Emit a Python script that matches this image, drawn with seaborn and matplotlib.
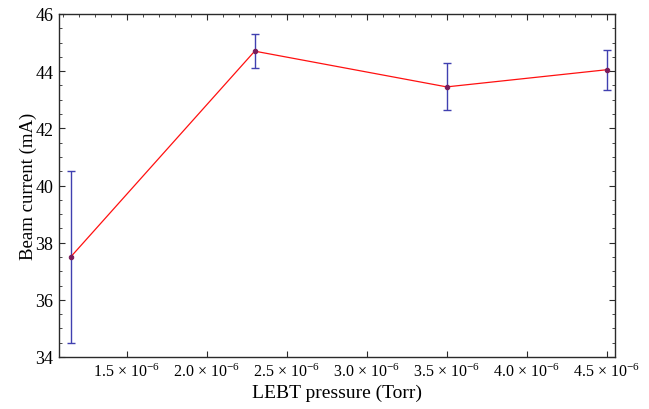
import matplotlib
matplotlib.use("Agg")
import matplotlib.pyplot as plt
from matplotlib.ticker import MultipleLocator, FuncFormatter
import seaborn as sns
import pandas as pd

# LEBT pressure scan: measured beam current with uncertainty
pressure_torr = [1.15e-6, 2.3e-6, 3.5e-6, 4.5e-6]
beam_current_ma = [37.5, 44.7, 43.45, 44.05]
current_err_ma = [3.0, 0.6, 0.82, 0.7]

df = pd.DataFrame({"pressure": pressure_torr, "current": beam_current_ma, "err": current_err_ma})

sns.set_theme(style="ticks")
plt.rcParams["font.family"] = ["Liberation Serif", "DejaVu Serif"]
plt.rcParams["mathtext.fontset"] = "custom"
plt.rcParams["mathtext.rm"] = "Liberation Serif"
plt.rcParams["mathtext.it"] = "Liberation Serif:italic"
plt.rcParams["text.color"] = "black"
plt.rcParams["axes.labelcolor"] = "black"
plt.rcParams["xtick.labelcolor"] = "black"
plt.rcParams["ytick.labelcolor"] = "black"

fig = plt.figure(figsize=(6.49, 4.10), dpi=100)
ax = fig.add_axes([59 / 649, 1 - 358 / 410, (615 - 59) / 649, (358 - 15) / 410])

ax.errorbar(df["pressure"], df["current"], yerr=df["err"], fmt="none",
            ecolor="#4040b0", elinewidth=1.0, capsize=2.6, capthick=1.0, zorder=2)
sns.lineplot(data=df, x="pressure", y="current", ax=ax, color="#ff1010",
             linewidth=0.9, zorder=3, marker="o", markersize=3.2,
             markerfacecolor="#7a1c5a", markeredgecolor="#7a1c5a")

ax.set_xlim(1.077e-6, 4.552e-6)
ax.set_ylim(34, 46)

ax.xaxis.set_major_locator(MultipleLocator(0.5e-6))
ax.xaxis.set_minor_locator(MultipleLocator(0.1e-6))
ax.yaxis.set_major_locator(MultipleLocator(2))
ax.yaxis.set_minor_locator(MultipleLocator(0.5))
ax.xaxis.set_major_formatter(
    FuncFormatter(lambda v, p: f"{v * 1e6:.1f}$\\,\\times\\,$10$^{{-6}}$"))

for side in ["left", "right", "top", "bottom"]:
    ax.spines[side].set_visible(True)
    ax.spines[side].set_color("#2a2a2a")
    ax.spines[side].set_linewidth(1.0)

ax.tick_params(axis="both", which="both", direction="in", color="#2a2a2a",
               top=True, right=True)
ax.tick_params(axis="both", which="major", length=4.5, width=0.8)
ax.tick_params(axis="both", which="minor", length=2.5, width=0.6)
ax.tick_params(axis="x", which="minor", bottom=False)
ax.tick_params(axis="y", which="major", labelsize=13, pad=4)
ax.tick_params(axis="x", which="major", labelsize=11.5, pad=4)

ax.set_xlabel("LEBT pressure (Torr)", fontsize=14, labelpad=3)
ax.set_ylabel("Beam current (mA)", fontsize=13.5, labelpad=-1)

fig.savefig("out.png", dpi=100)
